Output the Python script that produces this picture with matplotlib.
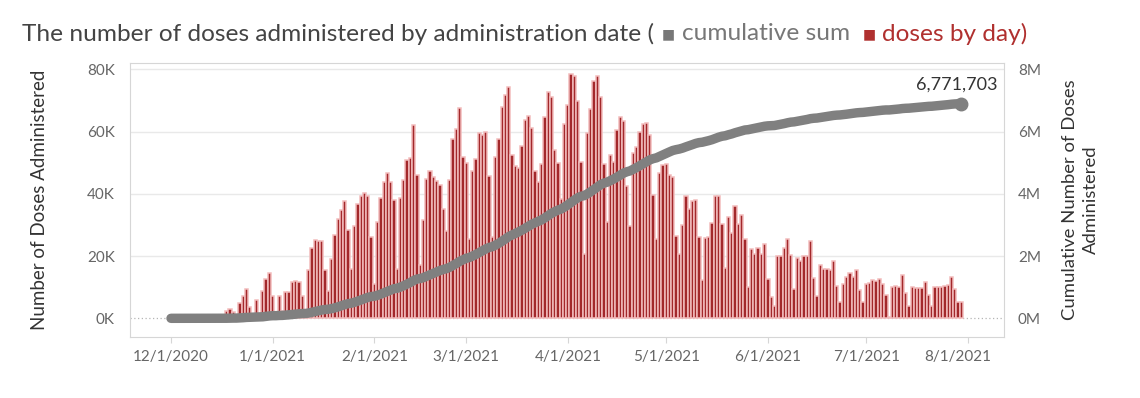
import numpy as np
import pandas as pd
import matplotlib
matplotlib.use('Agg')
import matplotlib.pyplot as plt
import matplotlib.transforms as mtransforms

plt.rcParams['font.family'] = ['Lato', 'DejaVu Sans']

# daily doses (thousands), one value per day starting 12/1/2020
start_date = '2020-12-01'
doses_k = [
    0, 0, 0, 0, 0, 0, 0, 0, 0, 0, 0, 0, 0, 0, 0, 0, 0,
    2.5, 3.0, 1.9, 0.3, 4.8, 7.3, 9.3, 3.5, 0.5, 5.9, 1.5, 8.9, 12.7, 14.5,
    7.3, 0.5, 7.3, 2.4, 8.3, 8.3, 11.8, 12.1, 11.8, 7.3, 1.6, 15.6, 22.6, 25.2,
    24.7, 24.7, 15.6, 8.8, 19.0, 26.6, 31.9, 34.7, 37.6,
    28.5, 15.9, 29.5, 36.8, 39.4, 40.1, 39.4, 26.1, 11.1, 30.9,
    38.7, 43.8, 46.7, 43.8, 38.1, 15.9, 38.7, 44.4, 50.7, 51.6,
    62.2, 45.9, 17.0, 31.5, 44.9, 47.3, 45.4, 44.0, 42.9, 35.1,
    27.9, 44.4, 57.5, 60.9, 67.6, 51.8, 50.0, 25.6, 47.3,
    51.2, 59.4, 58.8, 59.8, 45.6, 26.1, 51.8, 57.5, 68.0, 71.8,
    74.2, 52.6, 48.9, 48.3, 55.5, 63.6, 65.0, 61.2, 47.3, 43.9,
    49.6, 64.7, 72.8, 71.2, 54.2, 50.0, 38.3, 62.3, 68.5, 78.5,
    77.7, 69.8, 50.2, 20.7, 59.4, 67.1, 76.3, 77.7, 71.2, 49.7,
    30.9, 52.6, 50.2, 60.4, 64.7, 63.4, 42.4, 29.5, 53.2, 55.0,
    60.0, 62.3, 62.8, 58.9, 39.7, 25.5, 46.7, 49.1, 49.6, 45.9,
    45.4, 26.5, 20.6, 29.9, 39.2, 35.1, 37.6, 38.1, 26.1, 12.4,
    25.8, 26.1, 30.6, 39.4, 39.4, 30.4, 16.3, 32.4, 27.4, 36.0,
    30.3, 33.3, 25.6, 10.2, 22.2, 20.7, 22.6, 20.7, 23.8, 12.7,
    6.8, 4.0, 19.9, 19.9, 22.6, 25.6, 20.2, 9.3, 19.3, 18.5,
    19.9, 19.9, 24.7, 12.9, 7.2, 17.0, 15.9, 15.9, 15.6, 18.5,
    10.5, 5.4, 11.1, 13.4, 14.7, 13.4, 15.6, 9.1, 5.4,
    11.1, 11.5, 12.4, 12.0, 12.6, 11.0, 7.5, 0.5, 9.9, 10.5,
    10.2, 14.0, 8.1, 3.8, 10.2, 9.7, 9.7, 9.7, 11.8, 7.5,
    3.8, 10.0, 10.2, 10.2, 10.5, 10.7, 13.4, 9.3, 5.4, 5.4,
]
final_label = '6,771,703'

tick_dates = ['2020-12-01', '2021-01-01', '2021-02-01', '2021-03-01', '2021-04-01',
              '2021-05-01', '2021-06-01', '2021-07-01', '2021-08-01']
tick_labels = ['12/1/2020', '1/1/2021', '2/1/2021', '3/1/2021', '4/1/2021',
               '5/1/2021', '6/1/2021', '7/1/2021', '8/1/2021']
left_ticks = [0, 20000, 40000, 60000, 80000]
left_labels = ['0K', '20K', '40K', '60K', '80K']
right_ticks = [0, 2e6, 4e6, 6e6, 8e6]
right_labels = ['0M', '2M', '4M', '6M', '8M']

dates = pd.date_range(start_date, periods=len(doses_k), freq='D')
doses = np.array(doses_k) * 1000
cumulative = np.cumsum(doses)

W, H = 1140, 398
fig = plt.figure(figsize=(W / 100, H / 100), dpi=100)
ax = fig.add_axes([130 / W, 1 - 337 / H, (1004 - 130) / W, (337 - 63) / H])
ax2 = ax.twinx()

grid_c = '#e9e9e9'
spine_c = '#d6d6d6'
red = '#a3282b'
grey_line = '#808080'

# bars
ax.bar(dates, doses, width=1.0, color=red, edgecolor='#f2bcbc', linewidth=1.1, zorder=3)
for v in left_ticks[1:]:
    ax.axhline(v, color=grid_c, lw=1, zorder=1)
ax.axhline(0, color='#b5b5b5', lw=0.9, ls=(0, (1, 2)), zorder=2)

t0 = pd.Timestamp(start_date)
ax.set_xlim(t0 - pd.Timedelta(days=12.5), t0 + pd.Timedelta(days=254))
ax.set_ylim(-6000, 82000)
ax2.set_ylim(-0.6e6, 8.2e6)

# cumulative line
ax2.plot(dates, cumulative, color=grey_line, lw=6.8, solid_capstyle='round', zorder=4)
ax2.plot(dates[-1:], cumulative[-1:], 'o', ms=9, color=grey_line, zorder=5)
ax2.annotate(final_label, xy=(dates[-1], cumulative[-1]), xytext=(-3, 8),
             textcoords='offset points', ha='center', va='bottom',
             fontsize=13, color='#333333')

ax.set_xticks(pd.to_datetime(tick_dates))
ax.set_xticklabels(tick_labels)
ax.set_yticks(left_ticks)
ax.set_yticklabels(left_labels)
ax2.set_yticks(right_ticks)
ax2.set_yticklabels(right_labels)

ax.tick_params(axis='x', length=4, color=spine_c, labelcolor='#666666', labelsize=11, pad=5)
ax.tick_params(axis='y', length=0, labelcolor='#666666', labelsize=11, pad=11)
ax2.tick_params(axis='y', length=0, labelcolor='#666666', labelsize=11, pad=10)

# last date label sits a little left of its tick, as in the original
last_lbl = ax.get_xticklabels()[-1]
last_lbl.set_transform(last_lbl.get_transform() +
                       mtransforms.ScaledTranslation(-10 / 100, 0, fig.dpi_scale_trans))

for sp in ax.spines.values():
    sp.set_color(spine_c)
for sp in ax2.spines.values():
    sp.set_visible(False)

ax.set_ylabel('Number of Doses Administered', fontsize=13.5, color='#333333')
ax.yaxis.set_label_coords(-0.094, 0.5)
ax2.set_ylabel('Cumulative Number of Doses\nAdministered', fontsize=13.3, color='#333333',
               rotation=90, multialignment='center', linespacing=1.4)
ax2.yaxis.set_label_coords(1.066, 0.5)

# title made of coloured pieces
renderer = fig.canvas.get_renderer()
pieces = [
    ('The number of doses administered by administration date (', '#444444', 17.6, 8),
    ('\u25A0', '#777777', 10, 7),
    ('cumulative sum', '#777777', 17.6, 12),
    ('\u25A0', '#b0302f', 10, 7),
    ('doses by day)', '#b0302f', 17.6, 0),
]
x = 22
for txt, col, size, gap in pieces:
    t = fig.text(x / W, 1 - 34 / H, txt, color=col, fontsize=size, va='center', ha='left')
    bb = t.get_window_extent(renderer)
    x = bb.x1 + gap

fig.savefig('out.png', dpi=100)
